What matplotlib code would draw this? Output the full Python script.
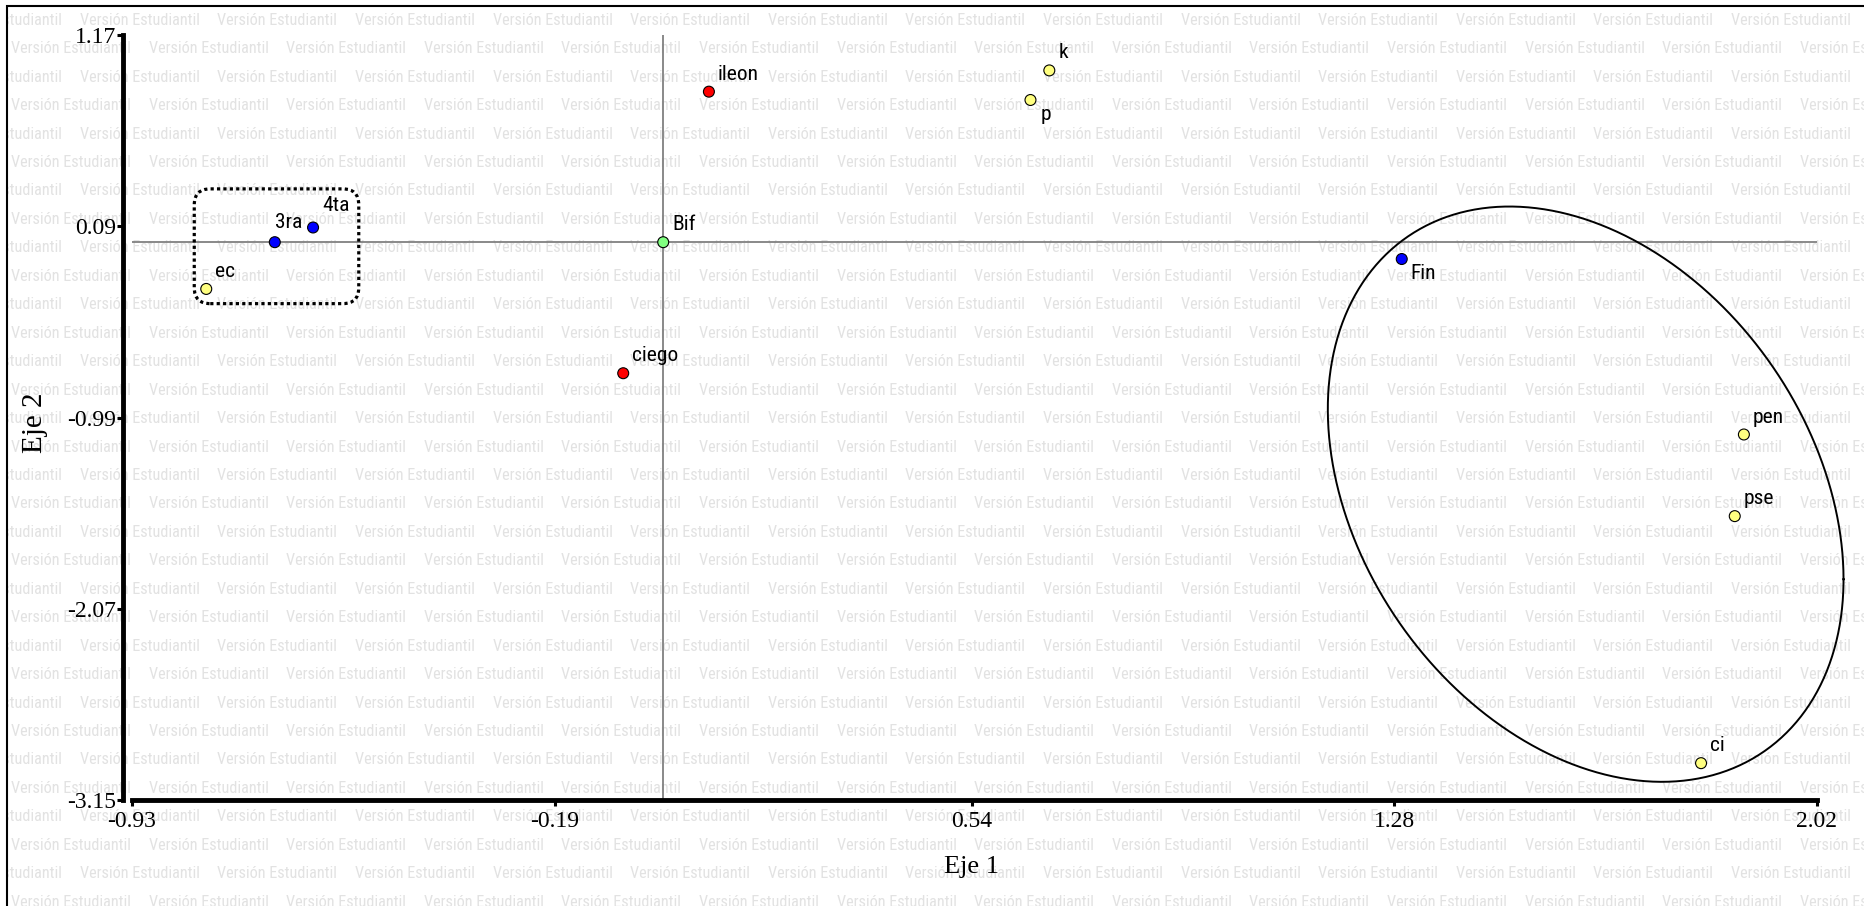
import matplotlib
matplotlib.use('Agg')
import matplotlib.pyplot as plt
import numpy as np
from matplotlib import font_manager as fm
from matplotlib.patches import FancyBboxPatch, Rectangle

# ---------------- data ----------------
names = ['ileon', 'Bif', 'ciego', 'k', 'p', '3ra', '4ta', 'ec', 'Fin', 'pen', 'pse', 'ci']
eje1 = [0.08, 0.00, -0.07, 0.676, 0.643, -0.68, -0.613, -0.80, 1.293, 1.892, 1.876, 1.817]
eje2 = [0.85, 0.00, -0.74, 0.97, 0.803, 0.00, 0.083, -0.264, -0.095, -1.086, -1.547, -2.942]
point_colors = ['#ff0000', '#80ff80', '#ff0000', '#ffff80', '#ffff80', '#0000ff',
                '#0000ff', '#ffff80', '#0000ff', '#ffff80', '#ffff80', '#ffff80']
x_ticks = [-0.93, -0.19, 0.54, 1.28, 2.02]
y_ticks = [1.17, 0.09, -0.99, -2.07, -3.15]
x_label = 'Eje 1'
y_label = 'Eje 2'
watermark = 'Versión Estudiantil'

# label offsets (pixels)
label_offsets = {'p': (10, -20), 'Fin': (9, -20), '3ra': (0, 14), '4ta': (9, 16)}
default_offset = (9, 12)

# group outlines
box_x = (-0.821, -0.533)
box_y = (-0.347, 0.301)
ell_center = (1.615, -1.423)
ell_cov = [[0.2038, -0.2168], [-0.2168, 2.6386]]

# ---------------- fonts ----------------
avail = {f.name for f in fm.fontManager.ttflist}
sans_fam = None
stretch = 'normal'
for c in ['Liberation Sans Narrow', 'Arial Narrow', 'Roboto Condensed',
          'Open Sans Condensed', 'Noto Sans Condensed', 'DejaVu Sans Condensed']:
    if c in avail:
        sans_fam = c
        break
if sans_fam is None:
    for f in fm.fontManager.ttflist:
        if f.name in ('Roboto', 'Noto Sans', 'Open Sans', 'DejaVu Sans') and \
                str(f.stretch) in ('condensed', 'semi-condensed', 'extra-condensed'):
            sans_fam = f.name
            stretch = str(f.stretch)
            break
if sans_fam is None:
    sans_fam = 'Liberation Sans'
sans = [sans_fam, 'DejaVu Sans']
serif = ['Liberation Serif', 'DejaVu Serif']

W, H = 1865, 906
fig = plt.figure(figsize=(W / 100, H / 100), dpi=100)
fig.patch.set_facecolor('white')
renderer = fig.canvas.get_renderer()


def size_for_width(txt, target_px):
    t = fig.text(0, 0, txt, fontsize=10, family=sans, fontstretch=stretch)
    w = t.get_window_extent(renderer).width
    t.remove()
    return 10 * target_px / w


wm_size = size_for_width(watermark, 120)
lab_size = size_for_width('ileon', 41)

# outer border
border = Rectangle((7 / W, -0.01), 1.02, 1 - 6 / H + 0.01, transform=fig.transFigure,
                   fill=False, edgecolor='black', linewidth=1.5, zorder=-2)
fig.patches.append(border)
clip_rect = Rectangle((8 / W, 0), 1, 1 - 7 / H, transform=fig.transFigure,
                      fill=False, visible=False)
fig.patches.append(clip_rect)

# watermark
row_h = 28.45
k = 0
while True:
    yc = 18.3 + k * row_h
    if yc > H + 20:
        break
    x = 11.0 if k % 2 == 1 else 11.0 - 68.75
    while x < W + 10:
        t = fig.text(x / W, 1 - (yc + 6.5) / H, watermark, fontsize=wm_size,
                     family=sans, fontstretch=stretch, color='#e2e2e2',
                     ha='left', va='baseline', zorder=-3)
        t.set_clip_path(clip_rect)
        x += 137.6
    k += 1

# axes
ax = fig.add_axes([132 / W, 106 / H, 1685 / W, 765 / H])
ax.patch.set_alpha(0)
ax.set_xlim(x_ticks[0], x_ticks[-1])
ax.set_ylim(y_ticks[-1], y_ticks[0])
for s in ['top', 'right']:
    ax.spines[s].set_visible(False)
ax.spines['left'].set_position(('outward', 6.5))
ax.spines['left'].set_linewidth(3.5)
ax.spines['bottom'].set_linewidth(3.5)
ax.set_xticks(x_ticks)
ax.set_xticklabels([f'{v:.2f}' for v in x_ticks])
ax.set_yticks(y_ticks)
ax.set_yticklabels([f'{v:.2f}' for v in y_ticks])
ax.tick_params(axis='both', direction='out', length=4, width=2.2, colors='black')
ax.tick_params(axis='x', pad=4)
ax.tick_params(axis='y', pad=1)
for lab in ax.get_xticklabels() + ax.get_yticklabels():
    lab.set_family(serif)
    lab.set_fontsize(17)

# zero lines
ax.axhline(0, color='#808080', lw=1.3, zorder=1)
ax.axvline(0, color='#808080', lw=1.3, zorder=1)

# points
ax.scatter(eje1, eje2, s=62, c=point_colors, edgecolors='black', linewidths=0.8, zorder=5)
for n, xv, yv in zip(names, eje1, eje2):
    off = label_offsets.get(n, default_offset)
    ax.annotate(n, (xv, yv), xytext=off, textcoords='offset pixels', ha='left',
                va='baseline', fontsize=lab_size, family=sans, fontstretch=stretch,
                color='black', zorder=6)

# dotted rounded box
aspect = (1685 / (x_ticks[-1] - x_ticks[0])) / (765 / (y_ticks[0] - y_ticks[-1]))
box = FancyBboxPatch((box_x[0], box_y[0]), box_x[1] - box_x[0], box_y[1] - box_y[0],
                     boxstyle='round,pad=0,rounding_size=0.028', mutation_aspect=aspect,
                     fill=False, edgecolor='black', linewidth=2.3,
                     linestyle=(0, (1, 1)), zorder=4)
ax.add_patch(box)

# ellipse
tt = np.linspace(0, 2 * np.pi, 400)
L = np.linalg.cholesky(np.array(ell_cov))
ex = ell_center[0] + L[0, 0] * np.cos(tt)
ey = ell_center[1] + L[1, 0] * np.cos(tt) + L[1, 1] * np.sin(tt)
ax.plot(ex, ey, color='black', lw=1.4, zorder=4, clip_on=False)

# axis titles
fig.text(972 / W, 1 - 873 / H, x_label, family=serif, fontsize=19, ha='center', va='baseline')
fig.text(35 / W, 1 - 423 / H, y_label, family=serif, fontsize=21, rotation=90,
         ha='center', va='center')

fig.savefig('out.png', dpi=100)
